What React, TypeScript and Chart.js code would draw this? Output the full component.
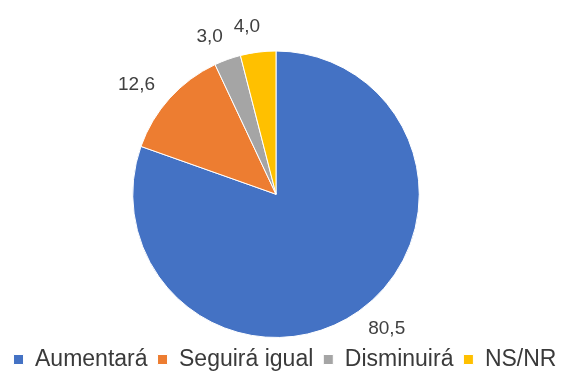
import React, { useEffect, useRef } from "react";
import { Chart, registerables } from "chart.js";

Chart.register(...registerables);

const categories = ["Aumentará", "Seguirá igual", "Disminuirá", "NS/NR"];
const values = [80.5, 12.6, 3.0, 4.0];
const colors = ["#4472C4", "#ED7D31", "#A5A5A5", "#FFC000"];

const FONT = "'Liberation Sans', Arial, sans-serif";
const TEXT_COLOR = "#404040";

const shiftPlugin = {
  id: "shiftArea",
  afterLayout(chart: any) {
    const a = chart.chartArea;
    a.left -= 9;
    a.right -= 9;
  },
};

const labelPlugin = {
  id: "outsideLabels",
  afterDatasetsDraw(chart: any) {
    const ctx = chart.ctx;
    const meta = chart.getDatasetMeta(0);
    const data = chart.data.datasets[0].data as number[];
    const size = 19;
    ctx.save();
    ctx.font = `${size}px ${FONT}`;
    ctx.fillStyle = TEXT_COLOR;
    ctx.textAlign = "center";
    ctx.textBaseline = "middle";
    meta.data.forEach((arc: any, i: number) => {
      const p = arc.getProps(["x", "y", "startAngle", "endAngle", "outerRadius"], true);
      const mid = (p.startAngle + p.endAngle) / 2 - 0.04;
      const dx = Math.cos(mid);
      const dy = Math.sin(mid);
      const text = data[i].toFixed(1).replace(".", ",");
      const w = ctx.measureText(text).width;
      const h = size * 0.72;
      const pad = 20;
      const x = p.x + dx * (p.outerRadius + pad) + dx * (w / 2);
      const y = p.y + dy * (p.outerRadius + pad) + dy * (h / 2);
      ctx.fillText(text, x, y);
    });
    ctx.restore();
  },
};

export default function App() {
  const ref = useRef<HTMLCanvasElement | null>(null);

  useEffect(() => {
    if (!ref.current) return;
    const chart = new Chart(ref.current, {
      type: "pie",
      data: {
        labels: categories,
        datasets: [
          {
            data: values,
            backgroundColor: colors,
            borderColor: "#ffffff",
            borderWidth: 1,
          },
        ],
      },
      options: {
        animation: false,
        responsive: false,
        devicePixelRatio: 1,
        layout: { padding: { top: 50.5, bottom: -8, left: 0, right: 0 } },
        plugins: {
          tooltip: { enabled: false },
          legend: {
            position: "bottom",
            labels: {
              boxWidth: 10,
              boxHeight: 10,
              padding: 10,
              color: "#3a3a3a",
              font: { family: FONT, size: 23 },
            },
          },
        },
      },
      plugins: [shiftPlugin, labelPlugin],
    });
    return () => chart.destroy();
  }, []);

  return (
    <div style={{ position: "fixed", left: 0, top: 0, width: 570, height: 373, background: "#fff" }}>
      <canvas ref={ref} width={570} height={373} style={{ width: 570, height: 373 }} />
    </div>
  );
}
